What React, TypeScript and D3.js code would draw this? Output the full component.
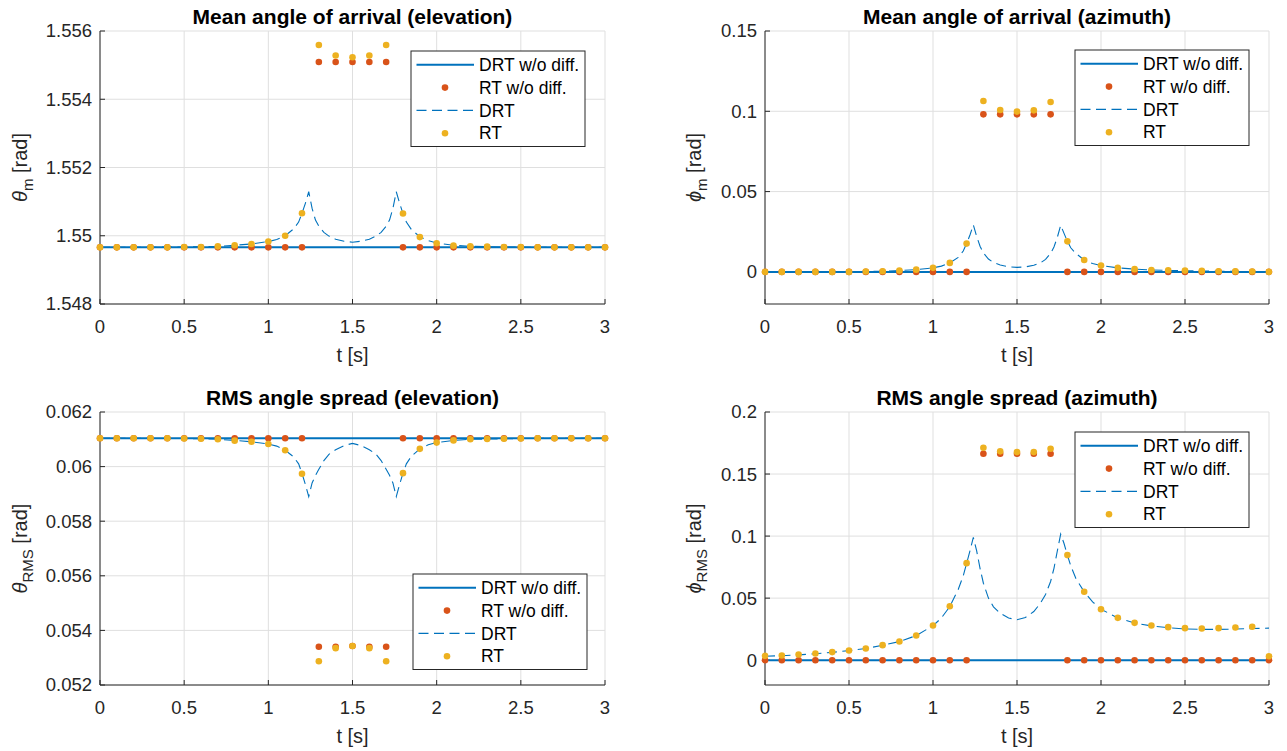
import React from "react";
import * as d3 from "d3";

// ---------------- data ----------------
const T_RT = [0, 0.1, 0.2, 0.3, 0.4, 0.5, 0.6, 0.7, 0.8, 0.9, 1, 1.1, 1.2, 1.3, 1.4, 1.5, 1.6, 1.7, 1.8, 1.9, 2, 2.1, 2.2, 2.3, 2.4, 2.5, 2.6, 2.7, 2.8, 2.9, 3];
const T_DRT = [0, 0.1, 0.2, 0.3, 0.4, 0.5, 0.6, 0.7, 0.8, 0.9, 1.0,
  1.05, 1.1, 1.15, 1.18, 1.2, 1.22, 1.24, 1.26, 1.28, 1.3, 1.33, 1.36, 1.4, 1.45, 1.5, 1.55, 1.6, 1.64, 1.67, 1.7, 1.72, 1.74, 1.76, 1.78, 1.8, 1.82, 1.85, 1.9, 1.95, 2.0,
  2.1, 2.2, 2.3, 2.4, 2.5, 2.6, 2.7, 2.8, 2.9, 3.0];
const T_FLAT = [0, 3];
const X_TICKS = [0, 0.5, 1, 1.5, 2, 2.5, 3];
const X_TICK_LABELS = ["0", "0.5", "1", "1.5", "2", "2.5", "3"];

// Mean angle of arrival (elevation)
const A_DRT_NODIFF = [1.54966, 1.54966];
const A_RT_NODIFF = [1.54966, 1.54966, 1.54966, 1.54966, 1.54966, 1.54966, 1.54966, 1.54966, 1.54966, 1.54966, 1.54966, 1.54966, 1.54966,
  1.55509, 1.55509, 1.55509, 1.55509, 1.55509,
  1.54966, 1.54966, 1.54966, 1.54966, 1.54966, 1.54966, 1.54966, 1.54966, 1.54966, 1.54966, 1.54966, 1.54966, 1.54966];
const A_RT = [1.54966, 1.54966, 1.54966, 1.54966, 1.54966, 1.54967, 1.54967, 1.54969, 1.54972, 1.54976, 1.54983, 1.55000, 1.55066,
  1.55559, 1.55528, 1.55523, 1.55528, 1.55559,
  1.55065, 1.54996, 1.54978, 1.54971, 1.54969, 1.54968, 1.54967, 1.54967, 1.54966, 1.54966, 1.54966, 1.54966, 1.54966];
const A_DRT = [1.54966, 1.54966, 1.54966, 1.54966, 1.54967, 1.54967, 1.54968, 1.54969, 1.54972, 1.54976, 1.54983,
  1.54989, 1.55000, 1.55020, 1.55040, 1.55066, 1.55095, 1.55129, 1.55080, 1.55046, 1.55028, 1.55010, 1.54999, 1.54990, 1.54984, 1.54981, 1.54984, 1.54990, 1.54999, 1.55010, 1.55028, 1.55046, 1.55080, 1.55129, 1.55095, 1.55065, 1.55040, 1.55018, 1.54997, 1.54986, 1.54979,
  1.54972, 1.54969, 1.54968, 1.54967, 1.54967, 1.54966, 1.54966, 1.54966, 1.54966, 1.54966];
const A_TICKS = [1.548, 1.55, 1.552, 1.554, 1.556];
const A_TICK_LABELS = ["1.548", "1.55", "1.552", "1.554", "1.556"];

// Mean angle of arrival (azimuth)
const B_DRT_NODIFF = [0, 0];
const B_RT_NODIFF = [0, 0, 0, 0, 0, 0, 0, 0, 0, 0, 0, 0, 0,
  0.0981, 0.0981, 0.0981, 0.0981, 0.0981,
  0, 0, 0, 0, 0, 0, 0, 0, 0, 0, 0, 0, 0];
const B_RT = [0, 0, 0, 0, 0, 0, 0.0002, 0.0004, 0.0008, 0.0014, 0.0025, 0.0056, 0.0176,
  0.1064, 0.1008, 0.0998, 0.1006, 0.1058,
  0.0190, 0.0074, 0.0039, 0.0025, 0.0017, 0.0012, 0.0010, 0.0008, 0.0006, 0.0004, 0.0003, 0.0002, 0];
const B_DRT = [0, 0, 0, 0, 0.0001, 0.0001, 0.0002, 0.0004, 0.0008, 0.0014, 0.0025,
  0.0036, 0.0056, 0.0090, 0.0130, 0.0176, 0.0230, 0.0293, 0.0220, 0.0160, 0.0118, 0.0080, 0.0058, 0.0043, 0.0032, 0.0028, 0.0031, 0.0041, 0.0056, 0.0078, 0.0115, 0.0155, 0.0215, 0.0290, 0.0240, 0.0190, 0.0150, 0.0115, 0.0074, 0.0052, 0.0039,
  0.0025, 0.0017, 0.0012, 0.0009, 0.0007, 0.0005, 0.0004, 0.0003, 0.0002, 0.0001];
const B_TICKS = [0, 0.05, 0.1, 0.15];
const B_TICK_LABELS = ["0", "0.05", "0.1", "0.15"];

// RMS angle spread (elevation)
const C_DRT_NODIFF = [0.06104, 0.06104];
const C_RT_NODIFF = [0.06104, 0.06104, 0.06104, 0.06104, 0.06104, 0.06104, 0.06104, 0.06104, 0.06104, 0.06104, 0.06104, 0.06104, 0.06104,
  0.05340, 0.05340, 0.05343, 0.05340, 0.05340,
  0.06104, 0.06104, 0.06104, 0.06104, 0.06104, 0.06104, 0.06104, 0.06104, 0.06104, 0.06104, 0.06104, 0.06104, 0.06104];
const C_RT = [0.06104, 0.06104, 0.06104, 0.06104, 0.06104, 0.06103, 0.06102, 0.06100, 0.06095, 0.06091, 0.06083, 0.06060, 0.05974,
  0.05287, 0.05335, 0.05343, 0.05335, 0.05287,
  0.05976, 0.06065, 0.06088, 0.06096, 0.06100, 0.06101, 0.06102, 0.06103, 0.06104, 0.06104, 0.06104, 0.06104, 0.06104];
const C_DRT = [0.06104, 0.06104, 0.06104, 0.06103, 0.06103, 0.06103, 0.06102, 0.06100, 0.06096, 0.06091, 0.06083,
  0.06075, 0.06060, 0.06036, 0.06010, 0.05975, 0.05935, 0.05890, 0.05940, 0.05968, 0.05990, 0.06022, 0.06045, 0.06062, 0.06077, 0.06085, 0.06077, 0.06062, 0.06045, 0.06022, 0.05990, 0.05968, 0.05940, 0.05890, 0.05935, 0.05976, 0.06010, 0.06038, 0.06065, 0.06080, 0.06088,
  0.06096, 0.06100, 0.06101, 0.06102, 0.06103, 0.06103, 0.06104, 0.06104, 0.06104, 0.06104];
const C_TICKS = [0.052, 0.054, 0.056, 0.058, 0.06, 0.062];
const C_TICK_LABELS = ["0.052", "0.054", "0.056", "0.058", "0.06", "0.062"];

// RMS angle spread (azimuth)
const D_DRT_NODIFF = [0, 0];
const D_RT_NODIFF = [0, 0, 0, 0, 0, 0, 0, 0, 0, 0, 0, 0, 0,
  0.1664, 0.1664, 0.1664, 0.1664, 0.1664,
  0, 0, 0, 0, 0, 0, 0, 0, 0, 0, 0, 0, 0];
const D_RT = [0.0035, 0.0038, 0.0046, 0.0054, 0.0065, 0.0078, 0.0094, 0.0121, 0.0151, 0.0199, 0.0280, 0.0435, 0.0782,
  0.1712, 0.1683, 0.1677, 0.1677, 0.1704,
  0.0847, 0.0551, 0.0411, 0.0341, 0.0301, 0.0280, 0.0266, 0.0258, 0.0255, 0.0258, 0.0263, 0.0269, 0.0032];
const D_DRT = [0.0032, 0.0036, 0.0043, 0.0052, 0.0063, 0.0077, 0.0094, 0.0120, 0.0150, 0.0198, 0.0278,
  0.0340, 0.0432, 0.0570, 0.0680, 0.0780, 0.0880, 0.0990, 0.0880, 0.0740, 0.0620, 0.0500, 0.0430, 0.0378, 0.0340, 0.0326, 0.0344, 0.0392, 0.0460, 0.0530, 0.0634, 0.0740, 0.0880, 0.1016, 0.0940, 0.0847, 0.0760, 0.0660, 0.0551, 0.0470, 0.0411,
  0.0340, 0.0299, 0.0276, 0.0262, 0.0252, 0.0248, 0.0248, 0.0251, 0.0255, 0.0258];
const D_TICKS = [0, 0.05, 0.1, 0.15, 0.2];
const D_TICK_LABELS = ["0", "0.05", "0.1", "0.15", "0.2"];

const LEGEND_LABELS = ["DRT w/o diff.", "RT w/o diff.", "DRT", "RT"];

// ---------------- style ----------------
const FONT = '"Liberation Sans", Arial, Helvetica, sans-serif';
const BLUE = "#0072BD";
const RED = "#D95319";
const YELLOW = "#EDB120";
const AXIS = "#262626";
const GRID = "#dfdfdf";

type PanelSpec = {
  left: number; right: number; top: number; bottom: number;
  yDomain: [number, number];
  yTicks: number[]; yTickLabels: string[];
  title: string; sym: string; sub: string; labelX: number;
  flat: number[]; rtNo: number[]; rt: number[]; drt: number[];
  legend: [number, number];
};

function Panel({ p }: { p: PanelSpec }) {
  const x = d3.scaleLinear().domain([0, 3]).range([p.left, p.right]);
  const y = d3.scaleLinear().domain(p.yDomain).range([p.bottom, p.top]);
  const line = d3.line<[number, number]>().x((d) => x(d[0])).y((d) => y(d[1]));
  const flatPts: [number, number][] = T_FLAT.map((t, i) => [t, p.flat[i]]);
  const drtPts: [number, number][] = T_DRT.map((t, i) => [t, p.drt[i]]);
  const cx = (p.left + p.right) / 2;
  const cy = (p.top + p.bottom) / 2;
  const [lx, ly] = p.legend;
  const rowY = (i: number) => ly + 13.8 + i * 22.8;
  return (
    <g>
      {X_TICKS.map((t) => (
        <line key={"gx" + t} x1={x(t)} x2={x(t)} y1={p.top} y2={p.bottom} stroke={GRID} strokeWidth={1} />
      ))}
      {p.yTicks.map((v) => (
        <line key={"gy" + v} x1={p.left} x2={p.right} y1={y(v)} y2={y(v)} stroke={GRID} strokeWidth={1} />
      ))}
      <line x1={p.left} x2={p.left} y1={p.top} y2={p.bottom} stroke={AXIS} strokeWidth={1} />
      <line x1={p.left} x2={p.right} y1={p.bottom} y2={p.bottom} stroke={AXIS} strokeWidth={1} />
      {X_TICKS.map((t, i) => (
        <g key={"xt" + t}>
          <line x1={x(t)} x2={x(t)} y1={p.bottom} y2={p.bottom - 5} stroke={AXIS} strokeWidth={1} />
          <text x={x(t)} y={p.bottom + 29} textAnchor="middle" fontSize={18.5} fill={AXIS} fontFamily={FONT}>
            {X_TICK_LABELS[i]}
          </text>
        </g>
      ))}
      {p.yTicks.map((v, i) => (
        <g key={"yt" + v}>
          <line x1={p.left} x2={p.left + 5} y1={y(v)} y2={y(v)} stroke={AXIS} strokeWidth={1} />
          <text x={p.left - 8} y={y(v)} dy="0.35em" textAnchor="end" fontSize={18.5} fill={AXIS} fontFamily={FONT}>
            {p.yTickLabels[i]}
          </text>
        </g>
      ))}
      <text x={cx} y={p.top - 7} textAnchor="middle" fontSize={21} fontWeight="bold" fill="#000" fontFamily={FONT}>
        {p.title}
      </text>
      <text x={cx} y={p.bottom + 58} textAnchor="middle" fontSize={20} fill={AXIS} fontFamily={FONT}>
        t [s]
      </text>
      <text transform={`translate(${p.labelX},${cy}) rotate(-90)`} textAnchor="middle" fontSize={20} fill={AXIS} fontFamily={FONT}>
        <tspan fontStyle="italic">{p.sym}</tspan>
        <tspan dy={6} fontSize={15}>{p.sub}</tspan>
        <tspan dy={-6}> [rad]</tspan>
      </text>
      <path d={line(flatPts) || ""} fill="none" stroke={BLUE} strokeWidth={2} />
      {T_RT.map((t, i) => (
        <circle key={"r" + i} cx={x(t)} cy={y(p.rtNo[i])} r={3.3} fill={RED} />
      ))}
      <path d={line(drtPts) || ""} fill="none" stroke={BLUE} strokeWidth={1.1} strokeDasharray="10,5.5" />
      {T_RT.map((t, i) => (
        <circle key={"y" + i} cx={x(t)} cy={y(p.rt[i])} r={3.3} fill={YELLOW} />
      ))}
      <rect x={lx} y={ly} width={174} height={95.5} fill="#fff" stroke={AXIS} strokeWidth={1} />
      <line x1={lx + 5.5} x2={lx + 63} y1={rowY(0)} y2={rowY(0)} stroke={BLUE} strokeWidth={2} />
      <circle cx={lx + 34} cy={rowY(1)} r={3.3} fill={RED} />
      <line x1={lx + 5.5} x2={lx + 63} y1={rowY(2)} y2={rowY(2)} stroke={BLUE} strokeWidth={1.1} strokeDasharray="10,5.5" />
      <circle cx={lx + 34} cy={rowY(3)} r={3.3} fill={YELLOW} />
      {LEGEND_LABELS.map((s, i) => (
        <text key={"lg" + i} x={lx + 68} y={rowY(i)} dy="0.35em" fontSize={17.5} fill="#000" fontFamily={FONT}>
          {s}
        </text>
      ))}
    </g>
  );
}

const PANELS: PanelSpec[] = [
  {
    left: 100, right: 605, top: 31, bottom: 304, yDomain: [1.548, 1.556],
    yTicks: A_TICKS, yTickLabels: A_TICK_LABELS,
    title: "Mean angle of arrival (elevation)", sym: "θ", sub: "m", labelX: 27,
    flat: A_DRT_NODIFF, rtNo: A_RT_NODIFF, rt: A_RT, drt: A_DRT, legend: [411, 51],
  },
  {
    left: 765, right: 1269, top: 31, bottom: 304, yDomain: [-0.02, 0.15],
    yTicks: B_TICKS, yTickLabels: B_TICK_LABELS,
    title: "Mean angle of arrival (azimuth)", sym: "\u03D5", sub: "m", labelX: 701,
    flat: B_DRT_NODIFF, rtNo: B_RT_NODIFF, rt: B_RT, drt: B_DRT, legend: [1075, 50],
  },
  {
    left: 100, right: 605, top: 412, bottom: 685, yDomain: [0.052, 0.062],
    yTicks: C_TICKS, yTickLabels: C_TICK_LABELS,
    title: "RMS angle spread (elevation)", sym: "θ", sub: "RMS", labelX: 27,
    flat: C_DRT_NODIFF, rtNo: C_RT_NODIFF, rt: C_RT, drt: C_DRT, legend: [413, 574],
  },
  {
    left: 765, right: 1269, top: 412, bottom: 685, yDomain: [-0.02, 0.2],
    yTicks: D_TICKS, yTickLabels: D_TICK_LABELS,
    title: "RMS angle spread (azimuth)", sym: "\u03D5", sub: "RMS", labelX: 701,
    flat: D_DRT_NODIFF, rtNo: D_RT_NODIFF, rt: D_RT, drt: D_DRT, legend: [1075, 432],
  },
];

export default function App() {
  return (
    <svg width={1287} height={751} style={{ position: "absolute", left: 0, top: 0, background: "#fff" }}>
      <rect x={0} y={0} width={1287} height={751} fill="#fff" />
      {PANELS.map((p, i) => (
        <Panel key={i} p={p} />
      ))}
    </svg>
  );
}
